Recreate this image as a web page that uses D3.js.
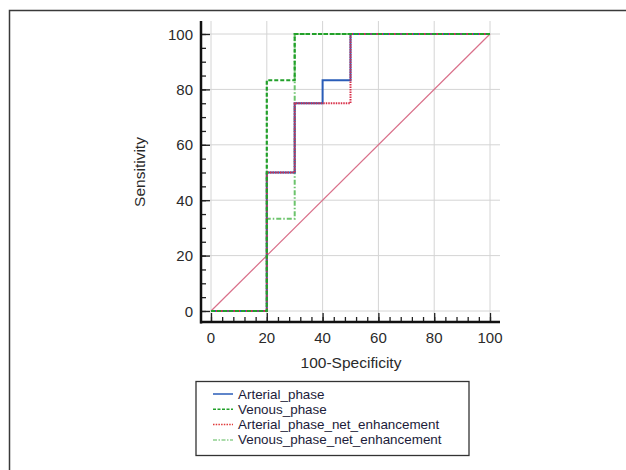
<!DOCTYPE html>
<html>
<head>
<meta charset="utf-8">
<script src="https://cdn.jsdelivr.net/npm/d3@7"></script>
<style>
  html, body { margin: 0; padding: 0; background: #fff; }
  svg { display: block; }
</style>
</head>
<body>
<svg id="chart" width="626" height="470"></svg>
<script>
// ---- data ----
const xTicks = [0, 20, 40, 60, 80, 100];
const yTicks = [0, 20, 40, 60, 80, 100];
const seriesNames = ["Arterial_phase", "Venous_phase", "Arterial_phase_net_enhancement", "Venous_phase_net_enhancement"];
const arterialX = [0, 20, 20, 30, 30, 40, 40, 50, 50, 100];
const arterialY = [0, 0, 50, 50, 75, 75, 83.3, 83.3, 100, 100];
const venousX = [0, 20, 20, 30, 30, 100];
const venousY = [0, 0, 83.3, 83.3, 100, 100];
const arterialNetX = [0, 20, 20, 30, 30, 50, 50, 100];
const arterialNetY = [0, 0, 50, 50, 75, 75, 100, 100];
const venousNetX = [0, 20, 20, 30, 30, 100];
const venousNetY = [0, 0, 33.3, 33.3, 100, 100];
const diagonalX = [0, 100];
const diagonalY = [0, 100];

// ---- drawing ----
const svg = d3.select("#chart");
const font = "'Liberation Sans', Arial, sans-serif";

// outer frame
svg.append("rect").attr("x", 9.5).attr("y", 10.5).attr("width", 700).attr("height", 600)
  .attr("fill", "none").attr("stroke", "#3a3a3a").attr("stroke-width", 1.5);

const x = d3.scaleLinear().domain([0, 100]).range([211, 490]);
const y = d3.scaleLinear().domain([0, 100]).range([311, 34]);
const axisX0 = 201, axisY0 = 322, plotRight = 500, plotTop = 21;

// grid
const g = svg.append("g");
g.selectAll(".gx").data(xTicks).join("line")
  .attr("x1", d => x(d)).attr("x2", d => x(d)).attr("y1", plotTop).attr("y2", axisY0)
  .attr("stroke", "#d4d4d4").attr("stroke-width", 1);
g.selectAll(".gy").data(yTicks).join("line")
  .attr("y1", d => y(d)).attr("y2", d => y(d)).attr("x1", axisX0).attr("x2", plotRight)
  .attr("stroke", "#d4d4d4").attr("stroke-width", 1);

// axes
const xAxis = d3.axisTop(x).tickValues(d3.range(0, 101, 4)).tickSize(5).tickFormat("");
const xAxisMajor = d3.axisTop(x).tickValues(xTicks).tickSize(9).tickFormat("");
const yAxis = d3.axisRight(y).tickValues(d3.range(0, 101, 5)).tickSize(5).tickFormat("");
const yAxisMajor = d3.axisRight(y).tickValues(yTicks).tickSize(9).tickFormat("");

function styleAxis(sel) {
  sel.select(".domain").remove();
  sel.selectAll(".tick line").attr("stroke", "#222").attr("stroke-width", 1.3);
}
svg.append("g").attr("transform", `translate(0,${axisY0})`).call(xAxis).call(styleAxis);
svg.append("g").attr("transform", `translate(0,${axisY0})`).call(xAxisMajor).call(styleAxis);
svg.append("g").attr("transform", `translate(${axisX0},0)`).call(yAxis).call(styleAxis);
svg.append("g").attr("transform", `translate(${axisX0},0)`).call(yAxisMajor).call(styleAxis);

// axis lines
svg.append("line").attr("x1", axisX0).attr("x2", axisX0).attr("y1", plotTop).attr("y2", axisY0 + 1.5)
  .attr("stroke", "#111").attr("stroke-width", 2.5);
svg.append("line").attr("x1", axisX0 - 1).attr("x2", plotRight).attr("y1", axisY0).attr("y2", axisY0)
  .attr("stroke", "#111").attr("stroke-width", 2.5);

// tick labels
svg.selectAll(".xl").data(xTicks).join("text")
  .attr("x", d => x(d)).attr("y", 343).attr("text-anchor", "middle")
  .attr("font-family", font).attr("font-size", 15).attr("fill", "#2a2a2a").text(d => d);
svg.selectAll(".yl").data(yTicks).join("text")
  .attr("x", 193).attr("y", d => y(d) + 5.5).attr("text-anchor", "end")
  .attr("font-family", font).attr("font-size", 15).attr("fill", "#2a2a2a").text(d => d);

// axis titles
svg.append("text").attr("x", 351).attr("y", 368).attr("text-anchor", "middle")
  .attr("font-family", font).attr("font-size", 15.5).attr("fill", "#2a2a2a").text("100-Specificity");
svg.append("text").attr("transform", "translate(145,172) rotate(-90)").attr("text-anchor", "middle")
  .attr("font-family", font).attr("font-size", 15.5).attr("fill", "#2a2a2a").text("Sensitivity");

// curves
const line = d3.line().x(d => x(d[0])).y(d => y(d[1]));
const zip = (a, b) => a.map((v, i) => [v, b[i]]);

const curves = [
  { xs: diagonalX, ys: diagonalY, color: "#d9708a", width: 1.2, dash: null },
  { xs: venousNetX, ys: venousNetY, color: "#6cc46c", width: 2, dash: "5,2,1.5,2" },
  { xs: arterialX, ys: arterialY, color: "#2a5db8", width: 2, dash: null },
  { xs: arterialNetX, ys: arterialNetY, color: "#d8304a", width: 2, dash: "1.5,1" },
  { xs: venousX, ys: venousY, color: "#22a02a", width: 2.2, dash: "4,2" }
];
curves.forEach(c => {
  svg.append("path").attr("d", line(zip(c.xs, c.ys)))
    .attr("fill", "none").attr("stroke", c.color).attr("stroke-width", c.width)
    .attr("stroke-dasharray", c.dash);
});

// legend
const legendStyles = [
  { color: "#2a5db8", dash: null },
  { color: "#22a02a", dash: "3,1.5" },
  { color: "#e03a3a", dash: "1.5,1.2" },
  { color: "#8fd08f", dash: "4,1.5,1.5,1.5" }
];
svg.append("rect").attr("x", 196).attr("y", 381.5).attr("width", 273).attr("height", 74)
  .attr("fill", "#fff").attr("stroke", "#333").attr("stroke-width", 1.3);
const lg = svg.selectAll(".lg").data(seriesNames).join("g")
  .attr("transform", (d, i) => `translate(0,${394 + i * 15.3})`);
lg.append("line").attr("x1", 213).attr("x2", 233).attr("y1", 0).attr("y2", 0)
  .attr("stroke", (d, i) => legendStyles[i].color).attr("stroke-width", 1.5)
  .attr("stroke-dasharray", (d, i) => legendStyles[i].dash);
lg.append("text").attr("transform", "translate(238,4.5) scale(1.1,1)")
  .attr("font-family", font).attr("font-size", 12.2)
  .attr("fill", "#1c1c3a").text(d => d);
</script>
</body>
</html>
